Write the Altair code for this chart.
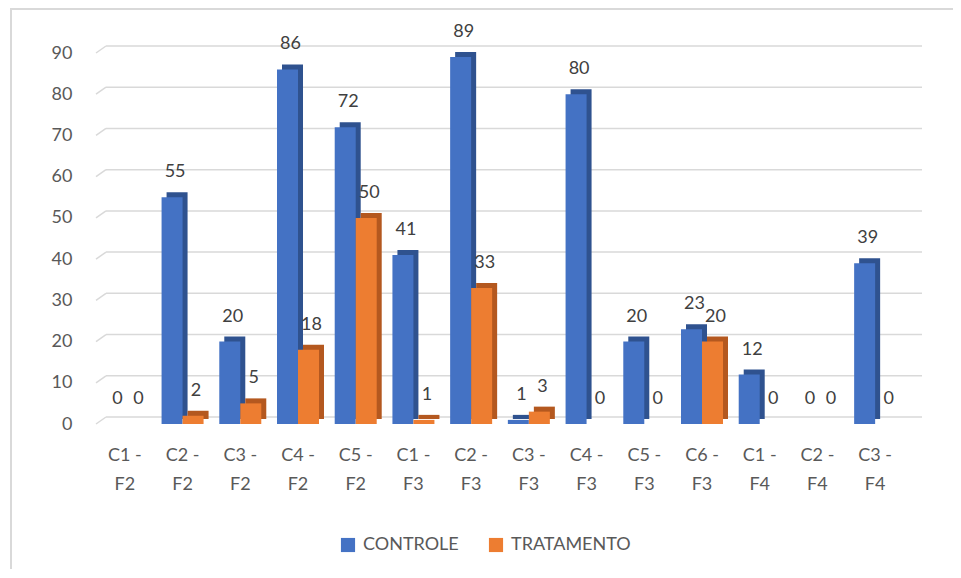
import altair as alt
import pandas as pd

categories = ["C1 - F2", "C2 - F2", "C3 - F2", "C4 - F2", "C5 - F2", "C1 - F3", "C2 - F3",
              "C3 - F3", "C4 - F3", "C5 - F3", "C6 - F3", "C1 - F4", "C2 - F4", "C3 - F4"]
controle = [0, 55, 20, 86, 72, 41, 89, 1, 80, 20, 23, 12, 0, 39]
tratamento = [0, 2, 5, 18, 50, 1, 33, 3, 0, 0, 20, 0, 0, 0]
y_ticks = list(range(0, 100, 10))
series = ["CONTROLE", "TRATAMENTO"]
colors = ["#4472C4", "#ED7D31"]
side_colors = ["#2F528F", "#B4581F"]

df = pd.DataFrame({"cat": categories, "CONTROLE": controle, "TRATAMENTO": tratamento})
grid_df = pd.DataFrame({"t": y_ticks})

W, H = 808, 371
FONT = "Lato"
BW = 21
DEPTH = 5

x = alt.X("cat:N", sort=categories, title=None,
          scale=alt.Scale(paddingInner=0.3, paddingOuter=0.15),
          axis=alt.Axis(labelAngle=0,
                        labelExpr="[split(datum.value, ' - ')[0] + ' -', split(datum.value, ' - ')[1]]",
                        labelLineHeight=29, labelFontSize=18, labelColor="#595959", labelFont=FONT,
                        labelPadding=22, domain=False, ticks=False, grid=False))
yscale = alt.Scale(domain=[0, 90], nice=False)


def yenc(field):
    return alt.Y(f"{field}:Q", title=None, scale=yscale,
                 axis=alt.Axis(values=y_ticks, labelFontSize=18, labelColor="#595959",
                               labelFont=FONT, labelPadding=24, domain=False, ticks=False, grid=False))


grid_h = alt.Chart(grid_df).mark_rule(color="#D9D9D9", strokeWidth=1.5, yOffset=-7).encode(
    y=yenc("t"), x=alt.value(10), x2=alt.value(W + 18))
grid_s = alt.Chart(grid_df).transform_calculate(t2="datum.t + 1.7").mark_rule(
    color="#D9D9D9", strokeWidth=1.5).encode(
    y=yenc("t"), y2="t2:Q", x=alt.value(0), x2=alt.value(10))

layers = [grid_h, grid_s]
offsets = [-BW / 2, BW / 2]
for s, col, scol, off in zip(series, colors, side_colors, offsets):
    layers.append(alt.Chart(df).mark_bar(width=BW, xOffset=off + DEPTH, yOffset=-DEPTH, color=scol)
                  .encode(x=x, y=yenc(s)))
for s, col, scol, off in zip(series, colors, side_colors, offsets):
    layers.append(alt.Chart(df).mark_bar(width=BW, xOffset=off).encode(
        x=x, y=yenc(s),
        color=alt.Color("k:N", scale=alt.Scale(domain=series, range=colors), title=None,
                        legend=alt.Legend(orient="none", legendX=243, legendY=483, direction="horizontal",
                                          symbolType="square", symbolSize=200, symbolStrokeWidth=0,
                                          labelFontSize=18, labelColor="#595959", labelFont=FONT,
                                          columnPadding=28, labelOffset=6)),
    ).transform_calculate(k=f"'{s}'"))
for s, off in zip(series, offsets):
    layers.append(alt.Chart(df).mark_text(xOffset=off + 3, dy=-16, fontSize=18, color="#404040",
                                          font=FONT, baseline="bottom")
                  .encode(x=x, y=yenc(s), text=f"{s}:Q"))

one = pd.DataFrame({"a": [0]})
border_top = alt.Chart(one).mark_rule(color="#D9D9D9", strokeWidth=2).encode(
    x=alt.value(-85), x2=alt.value(W + 70), y=alt.value(-44))
border_left = alt.Chart(one).mark_rule(color="#D9D9D9", strokeWidth=2).encode(
    x=alt.value(-85), y=alt.value(-45), y2=alt.value(H + 180))

chart = alt.layer(border_top, border_left, *layers).properties(
    width=W, height=H,
    background="white",
    autosize=alt.AutoSizeParams(type="none"),
    padding={"left": 88, "top": 45, "right": 49, "bottom": 145},
).configure_view(stroke=None)

chart.save("out.html", embed_options={"renderer": "svg", "actions": False})
